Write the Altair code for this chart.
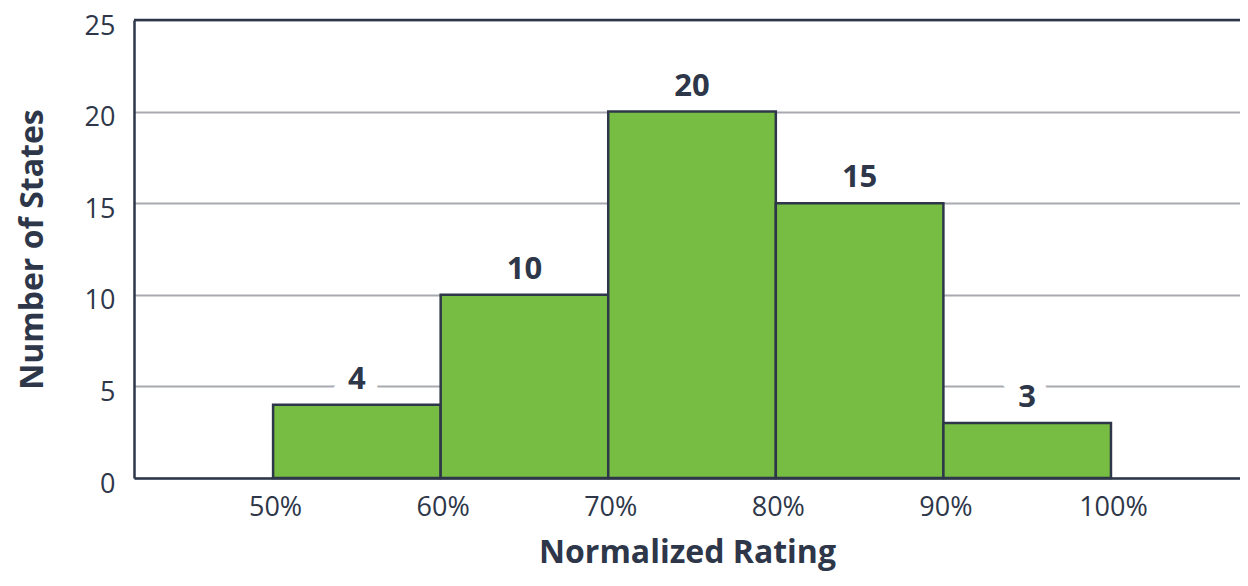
import altair as alt
import pandas as pd

bin_start = [50, 60, 70, 80, 90]
bin_end = [60, 70, 80, 90, 100]
counts = [4, 10, 20, 15, 3]
x_ticks = [50, 60, 70, 80, 90, 100]
y_ticks = [0, 5, 10, 15, 20, 25]

df = pd.DataFrame({"start": bin_start, "end": bin_end, "count": counts})
df["mid"] = (df["start"] + df["end"]) / 2

FONT = "Open Sans"
DARK = "#2e3749"
GREEN = "#77bc43"
GRID = "#a8aab0"

xscale = alt.Scale(domain=[41.7, 107.7], nice=False, zero=False)
yscale = alt.Scale(domain=[0, 25], nice=False)

base = alt.Chart(df)

bars = base.mark_rect(color=GREEN, stroke=DARK, strokeWidth=2.5).encode(
    x=alt.X("start:Q", scale=xscale,
            axis=alt.Axis(values=x_ticks, labelExpr="datum.value + '%'", title="Normalized Rating",
                          grid=False, ticks=False, domain=True, domainColor=DARK, domainWidth=2.5,
                          labelFont=FONT, labelFontSize=27, labelColor=DARK, labelPadding=16,
                          labelOffset=2,
                          titleFont=FONT, titleFontSize=32, titleFontWeight="bold", titleColor=DARK,
                          titlePadding=17)),
    x2="end:Q",
    y=alt.Y("count:Q", scale=yscale,
            axis=alt.Axis(values=y_ticks, title="Number of States", grid=True, gridColor=GRID,
                          gridWidth=2, ticks=False, domain=True, domainColor=DARK, domainWidth=2.5,
                          labelFont=FONT, labelFontSize=27, labelColor=DARK, labelPadding=19,
                          labelOffset=6,
                          titleFont=FONT, titleFontSize=32, titleFontWeight="bold", titleColor=DARK,
                          titlePadding=35)),
    y2=alt.datum(0),
)

halo = base.mark_text(font=FONT, fontSize=31, fontWeight="bold", stroke="white", strokeWidth=24,
                      color="white", baseline="alphabetic", dy=-16).encode(
    x=alt.X("mid:Q", scale=xscale), y=alt.Y("count:Q", scale=yscale), text="count:Q")

labels = base.mark_text(font=FONT, fontSize=31, fontWeight="bold", color=DARK,
                        baseline="alphabetic", dy=-16).encode(
    x=alt.X("mid:Q", scale=xscale), y=alt.Y("count:Q", scale=yscale), text="count:Q")

top_rule = alt.Chart(pd.DataFrame({"y": [25]})).mark_rule(color=DARK, strokeWidth=2.5).encode(
    y=alt.Y("y:Q", scale=yscale))

chart = alt.layer(halo, bars, labels, top_rule).properties(
    width=1106, height=458,
    autosize=alt.AutoSizeParams(type="none"),
    padding={"left": 126, "top": 12, "right": 0, "bottom": 96},
).configure_view(stroke=None)

chart.save("out.html", embed_options={"renderer": "svg", "actions": False})
